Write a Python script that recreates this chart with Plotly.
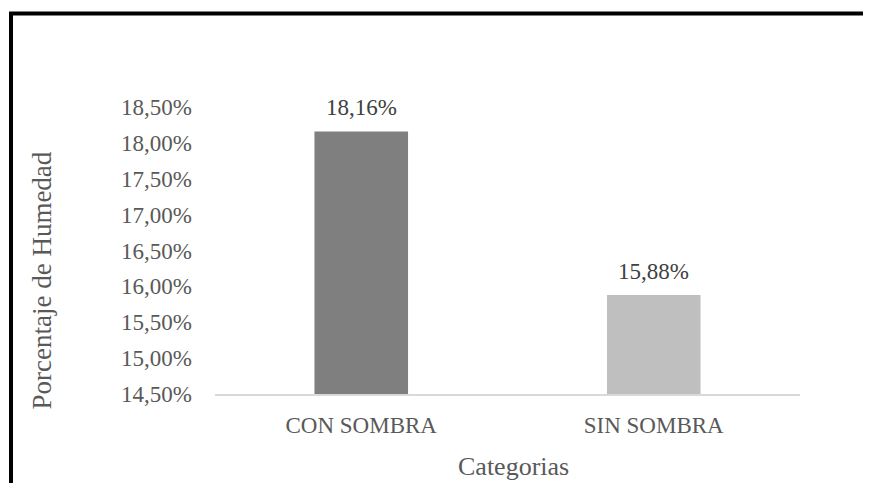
import plotly.graph_objects as go

categories = ["CON SOMBRA", "SIN SOMBRA"]
values = [18.16, 15.88]
value_labels = ["18,16%", "15,88%"]
bar_colors = ["#7f7f7f", "#bfbfbf"]
tick_vals = [14.5, 15.0, 15.5, 16.0, 16.5, 17.0, 17.5, 18.0, 18.5]
tick_text = ["14,50%", "15,00%", "15,50%", "16,00%", "16,50%", "17,00%", "17,50%", "18,00%", "18,50%"]

FONT = "Liberation Serif, Times New Roman, serif"

fig = go.Figure()
fig.add_trace(go.Bar(x=categories, y=values, marker=dict(color=bar_colors, line=dict(width=0)),
                     showlegend=False, hoverinfo="skip"))

for c, v, t in zip(categories, values, value_labels):
    fig.add_annotation(x=c, y=v, text=t, showarrow=False, yanchor="bottom", yshift=9,
                       font=dict(family=FONT, size=23, color="#404040"))

fig.update_layout(
    width=863, height=475,
    margin=dict(l=207, r=71, t=99, b=89),
    paper_bgcolor="white", plot_bgcolor="white",
    bargap=0.68,
    font=dict(family=FONT, size=23, color="#595959"),
    xaxis=dict(showline=True, linecolor="#d9d9d9", linewidth=2, showgrid=False,
               ticks="", ticklabelstandoff=9, tickfont=dict(family=FONT, size=23, color="#595959")),
    yaxis=dict(range=[14.5, 18.5], tickvals=tick_vals, ticktext=tick_text, showgrid=False,
               zeroline=False, showline=False, ticks="", ticklabelstandoff=22,
               tickfont=dict(family=FONT, size=23, color="#595959")),
)

fig.add_annotation(xref="paper", yref="paper", x=-0.2949, y=0.397, text="Porcentaje de Humedad",
                   textangle=-90, showarrow=False, xanchor="center", yanchor="middle",
                   font=dict(family=FONT, size=27, color="#595959"))
fig.add_annotation(xref="paper", yref="paper", x=0.510, y=-0.252, text="Categorias",
                   showarrow=False, xanchor="center", yanchor="middle",
                   font=dict(family=FONT, size=26, color="#595959"))

# outer frame (left and top edges visible)
fig.add_shape(type="line", xref="paper", yref="paper", x0=-0.3487, x1=-0.3487, y0=-0.5, y1=1.3258,
              line=dict(color="black", width=4))
fig.add_shape(type="line", xref="paper", yref="paper", x0=-0.3521, x1=1.2, y0=1.3258, y1=1.3258,
              line=dict(color="black", width=4))

fig.write_html("out.html")
